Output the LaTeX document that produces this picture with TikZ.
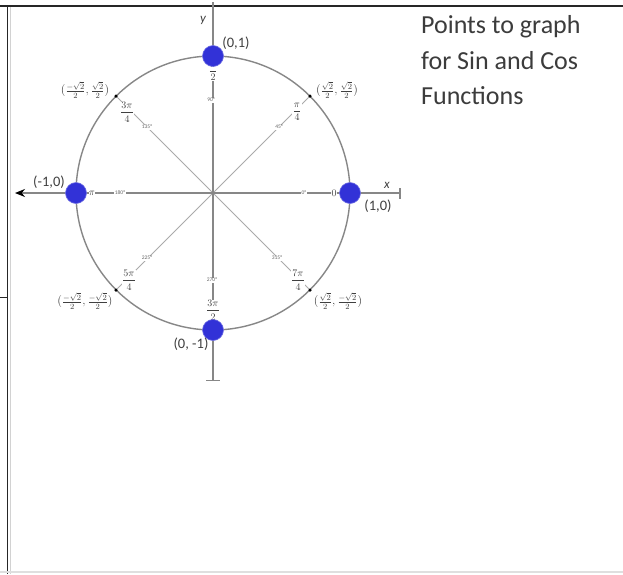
\documentclass[tikz,border=0pt]{standalone}
\usepackage{fontspec}
\setmainfont{Carlito}
\usetikzlibrary{arrows.meta,calc}
\definecolor{dotblue}{RGB}{50,50,215}
\definecolor{txt}{RGB}{60,60,60}
\definecolor{ringgray}{RGB}{135,135,135}
\definecolor{spokegray}{RGB}{170,170,170}
\begin{document}
\begin{tikzpicture}[x=1pt,y=-1pt,
  ring/.style={draw=ringgray, line width=1.4pt},
  axisline/.style={draw=ringgray, line width=1.4pt},
  spoke/.style={draw=spokegray, line width=1pt},
  bigdot/.style={circle, fill=dotblue, draw=dotblue!70!white, line width=0.6pt, minimum width=21pt, inner sep=0pt},
  smalldot/.style={circle, fill=black, minimum size=3.5pt, inner sep=0pt},
  deg/.style={font=\fontsize{5.5}{6}\selectfont, text=black!60, fill=white, inner sep=0.6pt},
  fr/.style={font=\fontsize{10}{11}\selectfont, text=black!75, fill=white, inner sep=0.4pt},
  coordlab/.style={font=\fontsize{14.5}{16}\selectfont, text=black!75, inner sep=0pt},
  rootlab/.style={font=\fontsize{11.5}{13}\selectfont, text=black!75, inner sep=0pt},
  title/.style={font=\fontsize{26}{30}\selectfont, text=txt, anchor=base west, inner sep=0pt}
]
\useasboundingbox (0,0) rectangle (623,574);
\fill[white] (0,0) rectangle (623,574);

% table borders
\draw[black!85, line width=2pt] (0,6) -- (623,6);
\draw[black!85, line width=1.8pt] (7.5,6) -- (7.5,574);
\draw[gray!35, line width=1pt] (10,7) -- (10,574);
\draw[black!85, line width=1.5pt] (0,297.5) -- (7.5,297.5);
\draw[gray!25, line width=1.5pt] (0,572) -- (623,572);

% points
\coordinate (O) at (213,193);
\coordinate (P0) at (350,193);
\coordinate (P90) at (213,56);
\coordinate (P180) at (76,193);
\coordinate (P270) at (213,330);
\coordinate (P45) at (310,96);
\coordinate (P135) at (116,96);
\coordinate (P225) at (116,290);
\coordinate (P315) at (310,290);
\coordinate (xl) at (15,193);
\coordinate (xr) at (400,193);
\coordinate (yt) at (213,2);
\coordinate (yb) at (213,380);

% circle and spokes
\draw[ring] (O) circle[radius=137pt];
\draw[spoke] (P45) -- (P225);
\draw[spoke] (P135) -- (P315);

% axes
\draw[axisline, {Stealth[length=10pt,width=8pt,black]}-] (xl) -- (xr);
\draw[axisline] ($(xr)+(0,-5)$) -- ($(xr)+(0,6)$);
\draw[axisline] (yt) -- (yb);
\draw[axisline, line width=1pt] ($(yb)+(-7,0)$) -- ($(yb)+(7,0)$);

% degree labels
\node[deg] (d0) at (304,193) {0°};
\node[deg] (d45) at (279,127) {45°};
\node[deg] (d90) at (211,100) {90°};
\node[deg] (d135) at (147,127) {135°};
\node[deg] (d180) at (120,193) {180°};
\node[deg] (d225) at (147,258) {225°};
\node[deg] (d270) at (212,280) {270°};
\node[deg] (d315) at (277,258) {315°};

% radian labels
\node[fr] (r0) at (334,193) {$0$};
\node[fr] (r45) at (297,112) {$\displaystyle\frac{\pi}{4}$};
\node[fr] (r90) at (213,72) {$\displaystyle\frac{\pi}{2}$};
\node[fr] (r135) at (127,112) {$\displaystyle\frac{3\pi}{4}$};
\node[fr] (r180) at (92,193) {$\pi$};
\node[fr] (r225) at (129,280) {$\displaystyle\frac{5\pi}{4}$};
\node[fr] (r270) at (213,310) {$\displaystyle\frac{3\pi}{2}$};
\node[fr] (r315) at (298,280) {$\displaystyle\frac{7\pi}{4}$};

% small dots
\node[smalldot] (s45) at (P45) {};
\node[smalldot] (s135) at (P135) {};
\node[smalldot] (s225) at (P225) {};
\node[smalldot] (s315) at (P315) {};

% big dots
\node[bigdot] (b0) at (P0) {};
\node[bigdot] (b90) at (P90) {};
\node[bigdot] (b180) at (P180) {};
\node[bigdot] (b270) at (P270) {};

% axis letters
\node[font=\fontsize{13}{15}\selectfont\itshape, text=black!75, inner sep=0pt] (ylab) at (203,20) {y};
\node[font=\fontsize{13}{15}\selectfont\itshape, text=black!75, inner sep=0pt] (xlab) at (387,185) {x};

% coordinate labels
\node[coordlab] (c90) at (236,43) {(0,1)};
\node[coordlab] (c180) at (49,182) {(-1,0)};
\node[coordlab] (c0) at (378,206) {(1,0)};
\node[coordlab] (c270) at (191,344) {(0, -1)};
\node[rootlab] (c45) at (337,90) {$(\frac{\sqrt{2}}{2},\frac{\sqrt{2}}{2})$};
\node[rootlab] (c135) at (85,90) {$(\frac{-\sqrt{2}}{2},\frac{\sqrt{2}}{2})$};
\node[rootlab] (c225) at (85,301) {$(\frac{-\sqrt{2}}{2},\frac{-\sqrt{2}}{2})$};
\node[rootlab] (c315) at (338,301) {$(\frac{\sqrt{2}}{2},\frac{-\sqrt{2}}{2})$};

% side text
\node[title] (t1) at (421,33) {Points to graph};
\node[title] (t2) at (421,69) {for Sin and Cos};
\node[title] (t3) at (421,104.5) {Functions};
\end{tikzpicture}
\end{document}
